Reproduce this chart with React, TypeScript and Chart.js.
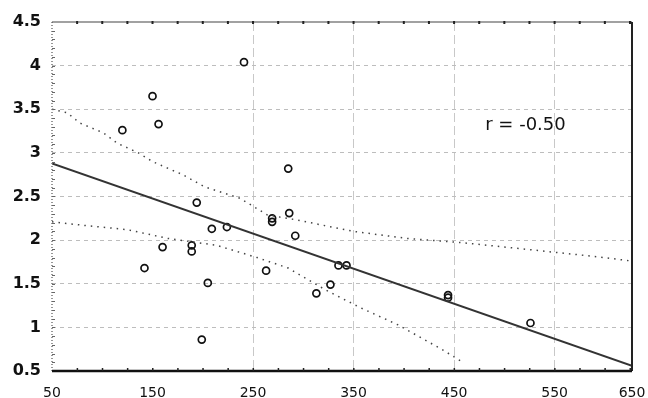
import React, { useEffect, useRef } from "react";
import { Chart, registerables } from "chart.js";

Chart.register(...registerables);

// Axis ticks
const xTickValues = [50, 150, 250, 350, 450, 550, 627];
const xTickLabels = ["50", "150", "250", "350", "450", "550", "650"];
const xGridValues = [250, 350, 450, 550];
const yTickValues = [0.5, 1, 1.5, 2, 2.5, 3, 3.5, 4, 4.5];
const yTickLabels = ["0.5", "1", "1.5", "2", "2.5", "3", "3.5", "4", "4.5"];

// Observations
const pointX = [120, 150, 156, 241, 285, 194, 160, 189, 189, 142, 205, 199, 209, 224, 269, 269, 286, 292, 263, 313, 327, 335, 343, 444, 444, 526];
const pointY = [3.26, 3.65, 3.33, 4.04, 2.82, 2.43, 1.92, 1.94, 1.87, 1.68, 1.51, 0.86, 2.13, 2.15, 2.25, 2.21, 2.31, 2.05, 1.65, 1.39, 1.49, 1.71, 1.71, 1.34, 1.37, 1.05];

// Regression line
const fitX = [50, 627];
const fitY = [2.88, 0.56];

// Upper dotted band
const upperX = [50, 65, 78, 101, 115, 136, 150, 180, 202, 237, 264, 294, 350, 403, 459, 526, 592, 627];
const upperY = [3.5, 3.46, 3.34, 3.23, 3.11, 3.0, 2.9, 2.75, 2.61, 2.48, 2.29, 2.23, 2.1, 2.02, 1.97, 1.89, 1.81, 1.76];

// Lower dotted band
const lowerX = [50, 81, 125, 165, 214, 254, 285, 322, 356, 394, 439, 460];
const lowerY = [2.21, 2.17, 2.12, 2.02, 1.94, 1.8, 1.68, 1.43, 1.23, 1.03, 0.74, 0.59];

const rLabel = "r = -0.50";

const toXY = (xs: number[], ys: number[]) => xs.map((x, i) => ({ x, y: ys[i] }));

const framePlugin = {
  id: "frame",
  afterDraw(chart: any) {
    const { ctx, chartArea, scales } = chart;
    const { left, right, top, bottom } = chartArea;
    const xs = scales.x;
    const ys = scales.y;
    ctx.save();
    // left border dotted
    ctx.strokeStyle = "#777";
    ctx.lineWidth = 1.5;
    ctx.setLineDash([1, 2]);
    ctx.beginPath();
    ctx.moveTo(left, top);
    ctx.lineTo(left, bottom);
    ctx.stroke();
    ctx.setLineDash([]);
    // left minor ticks
    ctx.strokeStyle = "#666";
    ctx.lineWidth = 1;
    for (let v = 0.6; v < 4.5; v += 0.1) {
      const py = Math.round(ys.getPixelForValue(v)) + 0.5;
      ctx.beginPath();
      ctx.moveTo(left, py);
      ctx.lineTo(left + 3, py);
      ctx.stroke();
    }
    // top border
    ctx.strokeStyle = "#444";
    ctx.lineWidth = 1.2;
    ctx.beginPath();
    ctx.moveTo(left, top);
    ctx.lineTo(right, top);
    ctx.stroke();
    // right border
    ctx.strokeStyle = "#222";
    ctx.lineWidth = 2;
    ctx.beginPath();
    ctx.moveTo(right, top);
    ctx.lineTo(right, bottom);
    ctx.stroke();
    // bottom border
    ctx.strokeStyle = "#111";
    ctx.lineWidth = 2.5;
    ctx.beginPath();
    ctx.moveTo(left, bottom);
    ctx.lineTo(right, bottom);
    ctx.stroke();
    // top / bottom minor ticks
    ctx.fillStyle = "#222";
    for (let v = 75; v < 627; v += 25) {
      const px = xs.getPixelForValue(v);
      ctx.fillRect(px - 1, top - 1, 2, 3);
      ctx.fillRect(px - 0.5, bottom - 3, 1.5, 3);
    }
    // r label
    ctx.fillStyle = "#111";
    ctx.font = '18px "DejaVu Sans"';
    ctx.textAlign = "left";
    ctx.textBaseline = "middle";
    ctx.fillText(rLabel, xs.getPixelForValue(481), ys.getPixelForValue(3.31));
    ctx.restore();
  },
};

export default function App() {
  const canvasRef = useRef<HTMLCanvasElement | null>(null);

  useEffect(() => {
    document.body.style.margin = "0";
    const canvas = canvasRef.current;
    if (!canvas) return;
    const chart = new Chart(canvas, {
      type: "scatter",
      data: {
        datasets: [
          {
            label: "upper",
            data: toXY(upperX, upperY),
            showLine: true,
            borderColor: "#444",
            borderWidth: 1.5,
            borderDash: [1.5, 5],
            pointRadius: 0,
            fill: false,
          },
          {
            label: "lower",
            data: toXY(lowerX, lowerY),
            showLine: true,
            borderColor: "#444",
            borderWidth: 1.5,
            borderDash: [1.5, 5],
            pointRadius: 0,
            fill: false,
          },
          {
            label: "fit",
            data: toXY(fitX, fitY),
            showLine: true,
            borderColor: "#333",
            borderWidth: 2,
            pointRadius: 0,
            fill: false,
          },
          {
            label: "points",
            data: toXY(pointX, pointY),
            pointStyle: "circle",
            pointRadius: 3.5,
            borderWidth: 1.7,
            borderColor: "#111",
            backgroundColor: "rgba(255,255,255,0)",
          },
        ],
      },
      options: {
        animation: false,
        responsive: false,
        events: [],
        layout: { padding: { top: 22, right: 16, left: 0, bottom: 0 } },
        plugins: {
          legend: { display: false },
          tooltip: { enabled: false },
          title: { display: false },
        },
        scales: {
          x: {
            type: "linear",
            min: 50,
            max: 627,
            afterBuildTicks: (scale: any) => {
              scale.ticks = xTickValues.map((v) => ({ value: v }));
            },
            afterFit: (scale: any) => {
              scale.height = 27;
              scale.paddingLeft = 0;
              scale.paddingRight = 0;
            },
            ticks: {
              autoSkip: false,
              maxRotation: 0,
              padding: 14,
              color: "#111",
              font: { family: "DejaVu Sans", size: 14 },
              callback: (_v: any, i: number) => xTickLabels[i],
            },
            grid: {
              drawTicks: false,
              lineWidth: 1,
              color: (ctx: any) =>
                ctx.tick && xGridValues.includes(ctx.tick.value) ? "#c8c8c8" : "rgba(0,0,0,0)",
            },
            border: { display: false, dash: [9, 4] },
          },
          y: {
            type: "linear",
            min: 0.5,
            max: 4.5,
            afterBuildTicks: (scale: any) => {
              scale.ticks = yTickValues.map((v) => ({ value: v }));
            },
            afterFit: (scale: any) => {
              scale.width = 52;
              scale.paddingTop = 0;
              scale.paddingBottom = 0;
            },
            ticks: {
              autoSkip: false,
              padding: 11,
              color: "#111",
              font: { family: "DejaVu Sans", size: 16, weight: "bold" },
              callback: (_v: any, i: number) => yTickLabels[i],
            },
            grid: {
              drawTicks: false,
              lineWidth: 1,
              color: (ctx: any) =>
                ctx.tick && ctx.tick.value > 0.5 && ctx.tick.value < 4.5 ? "#bdbdbd" : "rgba(0,0,0,0)",
            },
            border: { display: false, dash: [4, 4] },
          },
        },
      },
      plugins: [framePlugin],
    });
    return () => chart.destroy();
  }, []);

  return (
    <div style={{ position: "fixed", left: 0, top: 0, width: 648, height: 398, background: "#fff" }}>
      <canvas ref={canvasRef} width={648} height={398} style={{ display: "block" }} />
    </div>
  );
}
